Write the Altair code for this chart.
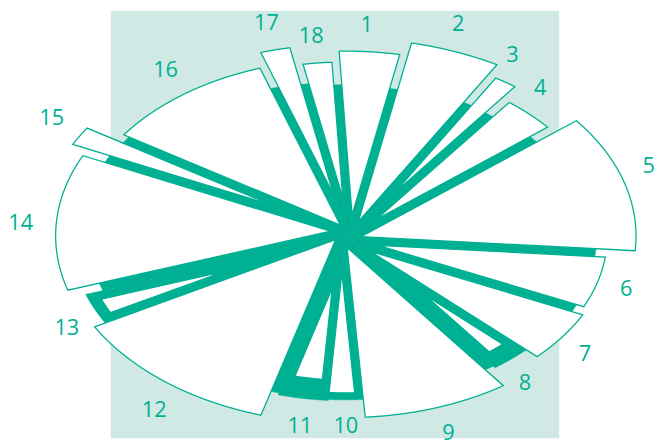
import numpy as np
import pandas as pd
import altair as alt

# ---- data ----
labels = [str(i) for i in range(1, 19)]
# angular share of each sector, degrees, clockwise from the top
spans = [14, 19, 6.5, 14, 44, 20, 19.5, 9.5, 32.5, 8, 11.5, 45.5, 10, 44, 7.5, 39, 7.5, 8]
# radius of the outlined (white) wedge
outer = [187, 200, 188, 173, 192, 173, 176, 151, 184, 159, 146, 190, 174, 192, 203, 179, 194, 176]
# radius of the solid (teal) wedge
inner = [153, 152, 156, 155, 158, 166, 168, 166, 164, 166, 167, 165, 182, 170, 176, 175, 157, 156]

# ---- layout / style constants ----
START = -3.0        # rotation of the first sector
STRETCH = 1.53      # horizontal stretch (the chart is elliptical)
STRIP = 8.0         # width of the solid band left visible along a sector's leading edge
BOTH_SIDES = {"8", "11", "13"}
GAP = 24.0
V_EXTRA = 2.5
CHAR_W = 12.0
TEAL = "#00b093"
LIGHT = "#d1e9e4"
FONT = "Open Sans"
W, H = 655, 433
CX, CY = 342, 228


def pt(theta_deg, r):
    t = np.radians(theta_deg)
    return np.array([STRETCH * r * np.sin(t), r * np.cos(t)])


teal_rows, white_rows, label_rows = [], [], []
a0 = START
for lab, sp, ro, ri in zip(labels, spans, outer, inner):
    a1 = a0 + sp
    # solid wedge
    angs = np.arange(a0, a1 + 1e-9, 0.1)
    if angs[-1] < a1:
        angs = np.append(angs, a1)
    poly = [np.array([0.0, 0.0])] + [pt(a, ri) for a in angs]
    for i, p in enumerate(poly):
        teal_rows.append({"sector": lab, "i": i, "X": p[0], "Y": p[1]})
    # outlined wedge, inset from the edges
    u0 = pt(a0, 1.0); u0 /= np.linalg.norm(u0)
    u1 = pt(a1, 1.0); u1 /= np.linalg.norm(u1)
    s0 = STRIP
    s1 = STRIP if lab in BOTH_SIDES else 0.0
    M = np.array([[u0[1], -u0[0]], [-u1[1], u1[0]]])
    apex = np.linalg.solve(M, np.array([s0, s1]))
    angs = np.arange(a0, a1 + 1e-9, 0.05)
    kept = []
    for a in angs:
        p = pt(a, ro)
        d0 = u0[1] * p[0] - u0[0] * p[1]
        d1 = u1[0] * p[1] - u1[1] * p[0]
        if d0 >= s0 - 1e-6 and d1 >= s1 - 1e-6:
            kept.append(p)
    poly = [apex] + kept
    for i, p in enumerate(poly):
        white_rows.append({"sector": lab, "i": i, "X": p[0], "Y": p[1]})
    # label, placed outward along the ellipse normal
    mid = (a0 + a1) / 2
    p = pt(mid, max(ro, ri))
    t = np.radians(mid)
    n = np.array([np.sin(t) / STRETCH, np.cos(t)])
    n /= np.linalg.norm(n)
    d = GAP + abs(n[0]) * CHAR_W * len(lab) / 2 + V_EXTRA * abs(n[1]) ** 8
    p = p + n * d
    label_rows.append({"label": lab, "X": p[0], "Y": p[1]})
    a0 = a1

teal_df = pd.DataFrame(teal_rows)
white_df = pd.DataFrame(white_rows)
label_df = pd.DataFrame(label_rows)

xs = alt.Scale(domain=[-CX, W - CX], nice=False, zero=False)
ys = alt.Scale(domain=[CY - H, CY], nice=False, zero=False)

bg = alt.Chart(pd.DataFrame({"a": [0]})).mark_rect(color=LIGHT).encode(
    x=alt.value(104), x2=alt.value(558), y=alt.value(0), y2=alt.value(H)
)

teal = alt.Chart(teal_df).mark_line(
    interpolate="linear-closed", fill=TEAL, stroke=TEAL, strokeWidth=0.6
).encode(
    x=alt.X("X:Q", scale=xs, axis=None),
    y=alt.Y("Y:Q", scale=ys, axis=None),
    detail="sector:N",
    order="i:Q",
)

white = alt.Chart(white_df).mark_line(
    interpolate="linear-closed", fill="white", stroke=TEAL, strokeWidth=1.3
).encode(
    x=alt.X("X:Q", scale=xs, axis=None),
    y=alt.Y("Y:Q", scale=ys, axis=None),
    detail="sector:N",
    order="i:Q",
)

text = alt.Chart(label_df).mark_text(
    font=FONT, fontSize=22, color=TEAL, align="center", baseline="middle"
).encode(
    x=alt.X("X:Q", scale=xs, axis=None),
    y=alt.Y("Y:Q", scale=ys, axis=None),
    text="label:N",
)

chart = alt.layer(bg, teal, white, text).properties(
    width=W, height=H, padding=0,
    autosize=alt.AutoSizeParams(type="none"),
).configure_view(stroke=None)

chart.save("out.html", embed_options={"renderer": "svg", "actions": False})
